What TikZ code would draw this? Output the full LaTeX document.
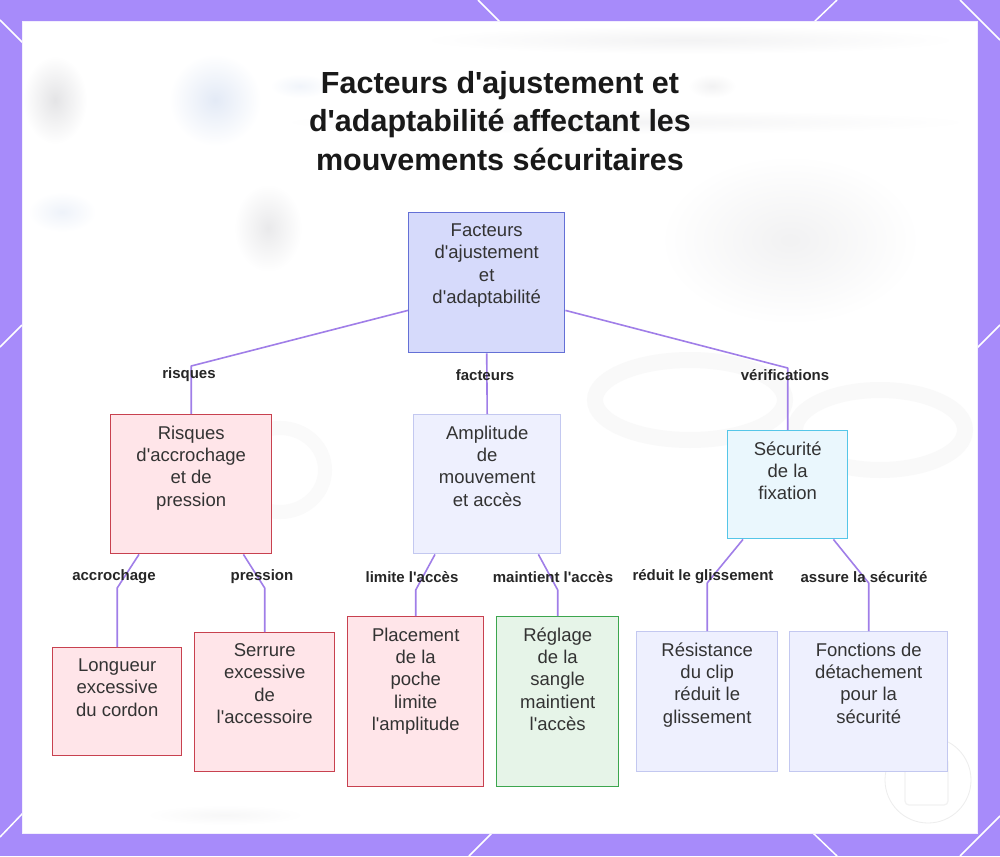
\documentclass[tikz,border=0pt]{standalone}
\usepackage{fontspec}
\setmainfont{Liberation Sans}[Ligatures=TeXOff]
\usetikzlibrary{calc}
\definecolor{framec}{HTML}{A78BFA}
\definecolor{linec}{HTML}{A07EE8}
\definecolor{txtc}{HTML}{333333}
\definecolor{rootfill}{HTML}{D6DAFB}
\definecolor{rootdraw}{HTML}{6470D6}
\definecolor{redfill}{HTML}{FFE5E9}
\definecolor{reddraw}{HTML}{C8414F}
\definecolor{lavfill}{HTML}{EEF0FE}
\definecolor{lavdraw}{HTML}{C3C8F0}
\definecolor{cyanfill}{HTML}{EAF7FD}
\definecolor{cyandraw}{HTML}{55C6E8}
\definecolor{grnfill}{HTML}{E6F4E8}
\definecolor{grndraw}{HTML}{3CA64E}
\definecolor{blurc}{HTML}{E4E4E6}
\definecolor{blurb}{HTML}{E3EAF6}
\tikzset{
  boxbase/.style={rectangle, inner sep=0pt, anchor=north west, line width=1.4pt},
  rootbox/.style={boxbase, fill=rootfill, draw=rootdraw},
  redbox/.style={boxbase, fill=redfill, draw=reddraw},
  lavbox/.style={boxbase, fill=lavfill, draw=lavdraw},
  cyanbox/.style={boxbase, fill=cyanfill, draw=cyandraw},
  grnbox/.style={boxbase, fill=grnfill, draw=grndraw},
  boxtxt/.style={anchor=north, inner sep=0pt, align=center, text=txtc, font=\fontsize{18.5}{22.3}\selectfont},
  elabel/.style={inner sep=1pt, text=black!85, font=\bfseries\fontsize{15}{18}\selectfont},
  conn/.style={draw=linec, line width=1.6pt, line join=round},
  deco/.style={draw=white, line width=1.5pt},
}
\begin{document}
\begin{tikzpicture}[x=1pt,y=-1pt]
\useasboundingbox (0,0) rectangle (1000,856);
% frame
\fill[framec] (0,0) rectangle (1000,856);
\draw[deco] (0,20) -- (23,43);
\draw[deco] (0,347) -- (22,325);
\draw[deco] (0,837) -- (23,813);
\draw[deco] (478,0) -- (500,22);
\draw[deco] (813,23) -- (837,0);
\draw[deco] (960,0) -- (1000,40);
\draw[deco] (977,348) -- (1000,325);
\draw[deco] (469,856) -- (492,833);
\draw[deco] (813,833) -- (837,856);
\draw[deco] (960,856) -- (1000,816);
\fill[white] (22,22) rectangle (977,833);
\draw[white!85!framec, line width=1pt] (22,22) rectangle (977,833);
% faint blurred background
\begin{scope}
\clip (22,22) rectangle (977,833);
\shade[inner color=blurc, outer color=white] (55,100) ellipse (32 and 44);
\shade[inner color=blurb, outer color=white] (215,100) circle (46);
\shade[inner color=blurb!60, outer color=white] (62,212) ellipse (34 and 20);
\shade[inner color=blurc!80, outer color=white] (268,228) ellipse (34 and 44);
\shade[inner color=blurc!50, outer color=white] (790,240) ellipse (130 and 85);
\shade[inner color=blurc!45, outer color=white] (690,40) ellipse (270 and 14);
\shade[inner color=blurc!40, outer color=white] (625,122) ellipse (350 and 12);
\shade[inner color=blurb!50, outer color=white] (300,86) ellipse (30 and 12);
\shade[inner color=blurc!50, outer color=white] (712,86) ellipse (24 and 12);
\draw[blurc!22, line width=16pt] (690,400) ellipse (95 and 40);
\draw[blurc!22, line width=16pt] (880,430) ellipse (85 and 40);
\draw[blurc!20, line width=14pt] (280,470) ellipse (45 and 42);
\shade[inner color=blurc!30, outer color=white] (225,815) ellipse (80 and 10);
\end{scope}
% watermark
\draw[black!7, line width=0.8pt] (928,780) circle (43);
\draw[black!5, line width=1.2pt, rounded corners=4pt] (905,758) rectangle (948,805);
% title
\node[align=center, text=black!90, font=\bfseries\fontsize{30.5}{38.5}\selectfont] (title) at (500,121)
  {Facteurs d'ajustement et\\d'adaptabilité affectant les\\mouvements sécuritaires};
% boxes
\node[rootbox, minimum width=156pt, minimum height=140pt] (root) at (408,212) {};
\node[redbox, minimum width=161pt, minimum height=139pt] (risk) at (110,414) {};
\node[lavbox, minimum width=147pt, minimum height=139pt] (amp) at (413,414) {};
\node[cyanbox, minimum width=120pt, minimum height=108pt] (sec) at (727,430) {};
\node[redbox, minimum width=129pt, minimum height=108pt] (long) at (52,647) {};
\node[redbox, minimum width=140pt, minimum height=139pt] (serr) at (194,632) {};
\node[redbox, minimum width=136pt, minimum height=170pt] (plac) at (347,616) {};
\node[grnbox, minimum width=122pt, minimum height=170pt] (regl) at (496,616) {};
\node[lavbox, minimum width=141pt, minimum height=140pt] (res) at (636,631) {};
\node[lavbox, minimum width=158pt, minimum height=140pt] (fonc) at (789,631) {};
% box texts
\node[boxtxt] (troot) at ([yshift=-11.5pt]root.north) {Facteurs\\d'ajustement\\et\\d'adaptabilité};
\node[boxtxt] (trisk) at ([yshift=-11.5pt]risk.north) {Risques\\d'accrochage\\et de\\pression};
\node[boxtxt] (tamp) at ([yshift=-11.5pt]amp.north) {Amplitude\\de\\mouvement\\et accès};
\node[boxtxt] (tsec) at ([yshift=-11.5pt]sec.north) {Sécurité\\de la\\fixation};
\node[boxtxt] (tlong) at ([yshift=-11.5pt]long.north) {Longueur\\excessive\\du cordon};
\node[boxtxt] (tserr) at ([yshift=-11.5pt]serr.north) {Serrure\\excessive\\de\\l'accessoire};
\node[boxtxt] (tplac) at ([yshift=-11.5pt]plac.north) {Placement\\de la\\poche\\limite\\l'amplitude};
\node[boxtxt] (tregl) at ([yshift=-11.5pt]regl.north) {Réglage\\de la\\sangle\\maintient\\l'accès};
\node[boxtxt] (tres) at ([yshift=-11.5pt]res.north) {Résistance\\du clip\\réduit le\\glissement};
\node[boxtxt] (tfonc) at ([yshift=-11.5pt]fonc.north) {Fonctions de\\détachement\\pour la\\sécurité};
% connectors
\draw[conn] ([yshift=43pt]root.south west) -- ([yshift=48pt]risk.north) -- (risk.north);
\draw[conn] (root.south) -- (amp.north);
\draw[conn] ([yshift=43pt]root.south east) -- ([yshift=62pt]sec.north) -- (sec.north);
\draw[conn] ([xshift=29pt]risk.south west) -- ([yshift=59pt]long.north) -- (long.north);
\draw[conn] ([xshift=-29pt]risk.south east) -- ([yshift=44pt]serr.north) -- (serr.north);
\draw[conn] ([xshift=22pt]amp.south west) -- ([yshift=26pt]plac.north) -- (plac.north);
\draw[conn] ([xshift=-23pt]amp.south east) -- ([yshift=26pt]regl.north) -- (regl.north);
\draw[conn] ([xshift=16pt]sec.south west) -- ([yshift=48pt]res.north) -- (res.north);
\draw[conn] ([xshift=-15pt]sec.south east) -- ([yshift=48pt]fonc.north) -- (fonc.north);
% edge labels
\node[elabel] (l1) at (189,375) {risques};
\node[elabel] (l2) at (485,375) {facteurs};
\node[elabel] (l3) at (785,375) {vérifications};
\node[elabel] (l4) at (114,577) {accrochage};
\node[elabel] (l5) at (262,577) {pression};
\node[elabel] (l6) at (412,577) {limite l'accès};
\node[elabel] (l7) at (553,577) {maintient l'accès};
\node[elabel] (l8) at (703,577) {réduit le glissement};
\node[elabel] (l9) at (864,577) {assure la sécurité};
\end{tikzpicture}
\end{document}
